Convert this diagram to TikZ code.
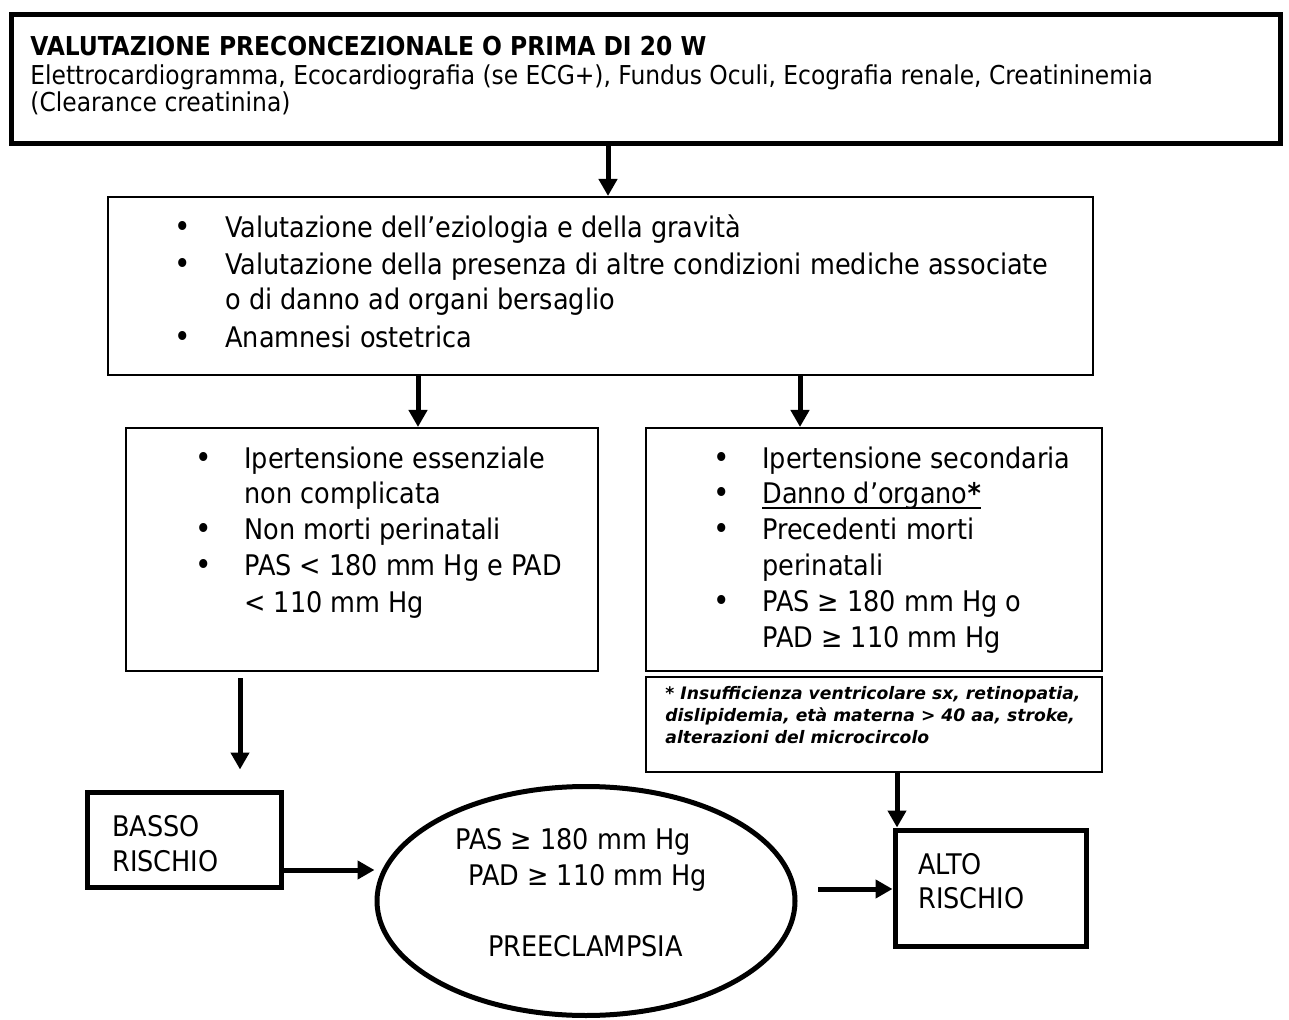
\documentclass[tikz,border=0pt]{standalone}
\usepackage{fontspec}
\setmainfont{DejaVu Sans Condensed}
\newfontfamily\fnfont{DejaVu Sans}
\usetikzlibrary{arrows.meta,shapes.geometric,fit}
\newcommand\ulx[1]{\setbox0\hbox{#1}\rlap{\rule[-2.4pt]{\wd0}{0.8pt}}\box0}
\begin{document}
\begin{tikzpicture}[x=0.5pt,y=-0.5pt,
  thickbox/.style={draw, line width=2.5pt, inner sep=0pt},
  thinbox/.style={draw, line width=1pt, inner sep=0pt},
  txt/.style={anchor=base west, inner sep=0pt, font=\fontsize{14.2}{17.85}\selectfont},
  toptxt/.style={anchor=base west, inner sep=0pt, font=\fontsize{13}{14}\selectfont},
  toptitle/.style={anchor=base west, inner sep=0pt, font=\bfseries\fontsize{13}{14}\selectfont},
  bul/.style={anchor=base, inner sep=0pt, font=\fontsize{15.5}{17.85}\selectfont},
  fntxt/.style={anchor=base west, inner sep=0pt, font=\fnfont\bfseries\itshape\fontsize{8.6}{11}\selectfont},
  arr/.style={line width=2.5pt, -{Triangle[length=8.5pt,width=9pt]}},
]
\useasboundingbox (0,0) rectangle (1289,1020);

% top box
\node[thickbox, fit={(11,15)(1280,144)}] (top) {};
\node[toptitle] (t1) at (30,56) {VALUTAZIONE PRECONCEZIONALE O PRIMA DI 20 W};
\node[toptxt] (t2) at (30,85) {Elettrocardiogramma, Ecocardiografia (se ECG+), Fundus Oculi, Ecografia renale, Creatininemia};
\node[toptxt] (t3) at (30,112) {(Clearance creatinina)};

% second box
\node[thinbox, fit={(108,197)(1093,375)}] (b2) {};
\node[bul] (b2a) at (183,238) {•};
\node[txt] (b2at) at (225,238) {Valutazione dell’eziologia e della gravità};
\node[bul] (b2b) at (183,275) {•};
\node[txt] (b2bt) at (225,275) {Valutazione della presenza di altre condizioni mediche associate};
\node[txt] (b2bt2) at (225,310) {o di danno ad organi bersaglio};
\node[bul] (b2c) at (183,348) {•};
\node[txt] (b2ct) at (225,348) {Anamnesi ostetrica};

% left box
\node[thinbox, fit={(126,428)(598,671)}] (lb) {};
\node[bul] (lba) at (204,469) {•};
\node[txt] (lbat) at (244,469) {Ipertensione essenziale};
\node[txt] (lbat2) at (244,504) {non complicata};
\node[bul] (lbb) at (204,540) {•};
\node[txt] (lbbt) at (244,540) {Non morti perinatali};
\node[bul] (lbc) at (204,576) {•};
\node[txt] (lbct) at (244,576) {PAS < 180 mm Hg e PAD};
\node[txt] (lbct2) at (244,612) {< 110 mm Hg};

% right box
\node[thinbox, fit={(646,428)(1102,671)}] (rb) {};
\node[bul] (rba) at (722,469) {•};
\node[txt] (rbat) at (762,469) {Ipertensione secondaria};
\node[bul] (rbb) at (722,504) {•};
\node[txt] (rbbt) at (762,504) {\ulx{Danno d’organo\textbf{*}}};
\node[bul] (rbc) at (722,540) {•};
\node[txt] (rbct) at (762,540) {Precedenti morti};
\node[txt] (rbct2) at (762,575) {perinatali};
\node[bul] (rbd) at (722,611) {•};
\node[txt] (rbdt) at (762,611) {PAS ≥ 180 mm Hg o};
\node[txt] (rbdt2) at (762,647) {PAD ≥ 110 mm Hg};

% footnote box
\node[thinbox, fit={(646,677)(1102,772)}] (fn) {};
\node[fntxt] (fn1) at (665,699) {* Insufficienza ventricolare sx, retinopatia,};
\node[fntxt] (fn2) at (665,721) {dislipidemia, età materna > 40 aa, stroke,};
\node[fntxt] (fn3) at (665,743) {alterazioni del microcircolo};

% risk boxes
\node[thickbox, fit={(87,792)(281,887)}] (basso) {};
\node[txt] (bs1) at (112,836) {BASSO};
\node[txt] (bs2) at (112,871) {RISCHIO};
\node[thickbox, fit={(895,830)(1086,946)}] (alto) {};
\node[txt] (al1) at (918,874) {ALTO};
\node[txt] (al2) at (918,908) {RISCHIO};

% ellipse
\node[draw, ellipse, line width=2.5pt, inner sep=0pt, minimum width=209pt, minimum height=114.5pt] (ell) at (586,901) {};
\node[txt] (e1) at (455,849) {PAS ≥ 180 mm Hg};
\node[txt] (e2) at (468,885) {PAD ≥ 110 mm Hg};
\node[txt] (e3) at (488,956) {PREECLAMPSIA};

% connectors
\coordinate (c1) at (608,0);
\coordinate (c2) at (418,0);
\coordinate (c3) at (800,0);
\coordinate (c4) at (240,0);
\coordinate (c5) at (0,870);
\coordinate (c6) at (818,889);
\coordinate (c7) at (897,0);
\draw[arr] (c1 |- top.south) -- (c1 |- b2.north);
\draw[arr] (c2 |- b2.south) -- (c2 |- lb.north);
\draw[arr] (c3 |- b2.south) -- (c3 |- rb.north);
\draw[arr, shorten <=3pt, shorten >=10pt] (c4 |- lb.south) -- (c4 |- basso.north);
\draw[arr] (basso.east |- c5) -- (ell.west |- c5);
\draw[arr] (c6) -- (alto.west |- c6);
\draw[arr] (c7 |- fn.south) -- (c7 |- alto.north);
\end{tikzpicture}
\end{document}
